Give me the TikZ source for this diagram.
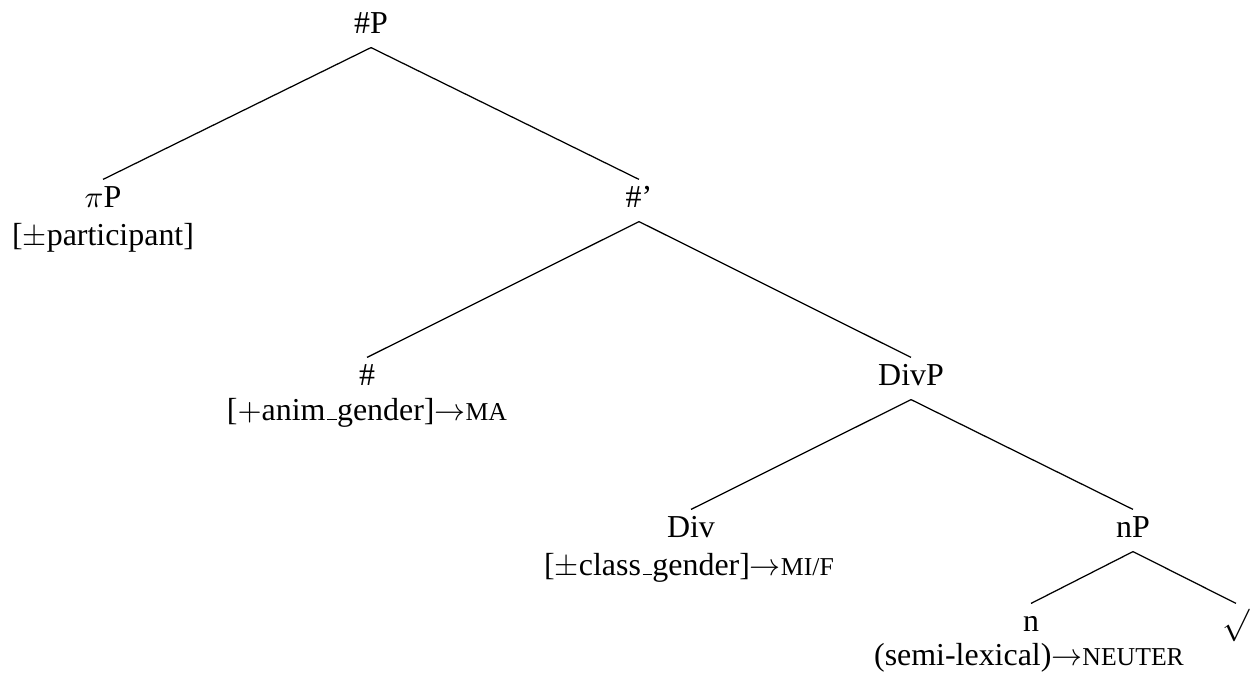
\documentclass[tikz,border=0pt]{standalone}
\usepackage{fontspec}
\setmainfont{Liberation Serif}
\usepackage{graphicx}
\usetikzlibrary{positioning}
\newcommand{\smcap}[1]{{\fontsize{8.3}{9}\selectfont #1}}
\newcommand{\usc}{\kern.06em\vbox{\hrule width.3em}}
\newcommand{\rootsym}{\raisebox{-0.9pt}{\scalebox{1.05}{$\surd$}}}

\begin{document}
\begin{tikzpicture}[x=0.3226pt, y=-0.3226pt, every node/.style={font=\fontsize{10.3}{12}\selectfont}]
\tikzset{cat/.style={inner sep=0pt, anchor=base, text height=8.7pt, text depth=4.5pt}}
\tikzset{feat/.style={inner sep=0pt, anchor=base}}
\tikzset{branch/.style={line width=0.4pt}}
\useasboundingbox (0,0) rectangle (1257,672);
% categories
\node[cat] (hp) at (371,33) {\#P};
\node[cat] (pip) at (103,207) {$\pi$P};
\node[cat] (hbar) at (639,207) {\#'};
\node[cat] (hh) at (367,385) {\#};
\node[cat] (divp) at (911,385) {DivP};
\node[cat] (div) at (691,537) {Div};
\node[cat] (np) at (1133,537) {nP};
\node[cat] (nn) at (1031,631) {n};
\node[cat] (rt) at (1236,631) {\rootsym};
% features
\node[feat] (pipf) at (103,245) {[$\pm$participant]};
\node[feat] (hhf) at (367,420) {[$+$anim\usc gender]$\rightarrow$\smcap{MA}};
\node[feat] (divf) at (689,575) {[$\pm$class\usc gender]$\rightarrow$\smcap{MI/F}};
\node[feat] (nnf) at (1029,665) {(semi-lexical)$\rightarrow$\smcap{NEUTER}};
% branches
\draw[branch] (hp.south) -- (pip.north);
\draw[branch] (hp.south) -- (hbar.north);
\draw[branch] (hbar.south) -- (hh.north);
\draw[branch] (hbar.south) -- (divp.north);
\draw[branch] (divp.south) -- (div.north);
\draw[branch] (divp.south) -- (np.north);
\draw[branch] (np.south) -- (nn.north);
\draw[branch] (np.south) -- (rt.north);
\end{tikzpicture}
\end{document}
